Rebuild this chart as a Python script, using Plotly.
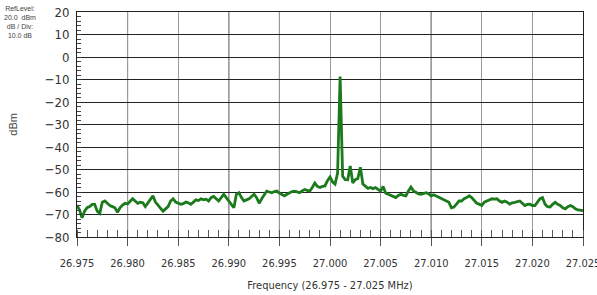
import plotly.graph_objects as go

# ---- data ----
f_start = 26.975          # MHz
f_step = 0.00025          # MHz per sample
level_dbm = [
    -65.8, -68.0, -71.5, -68.5, -67.0, -66.5, -65.5, -65.5, -68.5, -69.5,
    -64.5, -64.0, -65.0, -66.0, -66.5, -67.0, -69.0, -67.0, -65.8, -65.0,
    -65.3, -64.0, -63.0, -64.0, -65.0, -64.5, -64.8, -66.5, -65.0, -63.0,
    -61.7, -64.5, -66.0, -67.0, -68.5, -67.5, -66.5, -64.0, -63.0, -64.5,
    -65.0, -65.5, -65.2, -64.5, -64.8, -65.5, -64.5, -63.5, -63.8, -63.0,
    -63.5, -63.2, -64.0, -62.5, -62.0, -63.0, -64.0, -62.5, -61.0, -62.5,
    -64.0, -65.5, -67.0, -61.0, -60.3, -62.5, -64.0, -63.5, -63.0, -62.0,
    -61.0, -62.5, -65.0, -63.0, -61.0, -59.6, -60.0, -60.3, -59.8, -59.6,
    -60.5, -61.0, -61.7, -61.0, -60.3, -59.8, -59.6, -60.0, -60.3, -59.5,
    -58.9, -59.3, -59.6, -58.0, -56.0, -57.5, -58.0, -57.5, -57.3, -55.0,
    -53.3, -55.5, -56.5, -51.6, -8.7, -53.0, -54.5, -54.6, -48.4, -56.0,
    -54.5, -54.0, -49.0, -56.5, -57.5, -58.4, -58.0, -58.5, -58.0, -59.0,
    -59.6, -57.5, -60.5, -61.0, -61.5, -61.7, -62.5, -61.5, -61.0, -61.5,
    -61.7, -59.5, -57.8, -59.5, -60.3, -60.8, -61.0, -60.5, -60.3, -60.8,
    -61.7, -61.2, -61.7, -62.5, -63.0, -63.5, -64.0, -64.6, -67.0, -66.7,
    -65.5, -64.0, -64.0, -63.0, -62.5, -61.7, -62.5, -64.0, -65.0, -65.4,
    -66.0, -64.5, -64.0, -63.5, -63.0, -63.2, -63.0, -64.0, -64.6, -64.0,
    -64.5, -65.4, -64.8, -64.6, -64.2, -64.0, -65.0, -66.0, -65.5, -65.4,
    -66.0, -66.0, -64.5, -63.0, -62.5, -65.4, -66.5, -66.7, -65.5, -64.6,
    -65.5, -66.0, -67.0, -67.5, -66.5, -66.0, -66.5, -67.5, -68.0, -68.3,
    -68.3,
]
freq_mhz = [round(f_start + i * f_step, 6) for i in range(len(level_dbm))]

x_range = [26.975, 27.025]
x_ticks = [26.975, 26.980, 26.985, 26.990, 26.995, 27.000,
           27.005, 27.010, 27.015, 27.020, 27.025]
x_tick_labels = ["26.975", "26.980", "26.985", "26.990", "26.995", "27.000",
                 "27.005", "27.010", "27.015", "27.020", "27.025"]
dark_vgrid = [26.980, 26.990, 26.995, 27.010]
y_range = [-80, 20]
y_ticks = [20, 10, 0, -10, -20, -30, -40, -50, -60, -70, -80]
info_text = "RefLevel:<br>20.0  dBm<br>dB / Div:<br>10.0 dB"
x_title = "Frequency (26.975 - 27.025 MHz)"
y_title = "dBm"

NARROW = ("Liberation Sans Narrow, Arial Narrow, DejaVu Sans Condensed, "
          "Liberation Sans, sans-serif")

fig = go.Figure()
fig.add_trace(go.Scatter(
    x=freq_mhz, y=level_dbm, mode="lines",
    line=dict(color="#1b7a1b", width=2.8),
    hoverinfo="skip", showlegend=False,
))

for xv in dark_vgrid:
    fig.add_shape(type="line", xref="x", yref="y", x0=xv, x1=xv,
                  y0=y_range[0], y1=y_range[1], layer="below",
                  line=dict(color="#222222", width=1))

fig.update_layout(
    width=597, height=295,
    margin=dict(l=77, r=14, t=12, b=58, autoexpand=False),
    paper_bgcolor="white", plot_bgcolor="white",
    font=dict(family=NARROW, color="#333333"),
    xaxis=dict(
        range=[x_range[0], x_range[1] + 1e-7], automargin=False,
        tickmode="array", tickvals=x_ticks, ticktext=x_tick_labels,
        ticklabeloverflow="allow", ticklabelstandoff=8,
        showgrid=True, gridcolor="#9a9a9a", gridwidth=1,
        ticks="outside", ticklen=8, tickcolor="#555555",
        showline=True, mirror=True, linecolor="#222222", linewidth=1,
        zeroline=False,
        tickfont=dict(family=NARROW, size=11, color="#333333"),
        minor=dict(dtick=0.001, ticks="inside", ticklen=7,
                   tickcolor="#555555", showgrid=False),
        title=dict(text=x_title, standoff=12,
                   font=dict(family=NARROW, size=11, color="#333333")),
    ),
    yaxis=dict(
        range=y_range, tickvals=y_ticks, automargin=False,
        ticklabelstandoff=4,
        showgrid=True, gridcolor="#222222", gridwidth=1,
        ticks="inside", ticklen=5, tickcolor="#333333",
        showline=True, mirror=True, linecolor="#222222", linewidth=1,
        zeroline=False,
        tickfont=dict(family=NARROW, size=13, color="#333333"),
        minor=dict(dtick=2, ticks="inside", ticklen=4,
                   tickcolor="#444444", showgrid=False),
    ),
    annotations=[
        dict(text=info_text, xref="paper", yref="paper",
             x=-0.112, y=1.04, xanchor="center", yanchor="top",
             showarrow=False, align="center",
             font=dict(family="Liberation Sans, sans-serif", size=7,
                       color="#444444")),
        dict(text=y_title, xref="paper", yref="paper",
             x=-0.128, y=0.5, xanchor="center", yanchor="middle",
             textangle=-90, showarrow=False,
             font=dict(family="Liberation Sans, sans-serif", size=11,
                       color="#444444")),
    ],
)

# remove the browser's default 8px page margin so the figure fills the window
fig.write_html(
    "out.html",
    config={"displayModeBar": False, "staticPlot": True},
    post_script="document.body.style.margin='0';"
                "document.body.style.overflow='hidden';",
)
